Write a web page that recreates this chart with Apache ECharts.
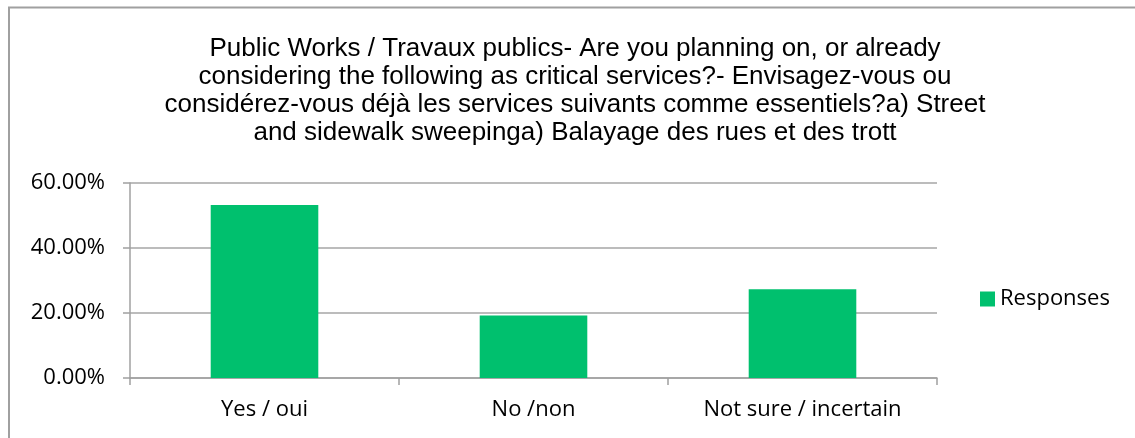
<!DOCTYPE html>
<html>
<head>
<meta charset="utf-8">
<script src="https://cdn.jsdelivr.net/npm/echarts@6/dist/echarts.min.js"></script>
<style>
  html, body { margin: 0; padding: 0; background: #fff; }
  #chart { width: 1135px; height: 438px; }
</style>
</head>
<body>
<div id="chart"></div>
<script>
const titleText = 'Public Works / Travaux publics- Are you planning on, or already\nconsidering the following as critical services?- Envisagez-vous ou\nconsidérez-vous déjà les services suivants comme essentiels?a) Street\nand sidewalk sweepinga) Balayage des rues et des trott'
const categories = ['Yes / oui', 'No /non', 'Not sure / incertain']
const responses = [53.2, 19.2, 27.3]
const seriesName = 'Responses'

const labelFont = '"Open Sans", Lato, sans-serif'

const chart = echarts.init(document.getElementById('chart'))
chart.setOption({
  animation: false,
  title: {
    text: titleText,
    left: 570,
    top: 30,
    textAlign: 'center',
    textStyle: {
      fontFamily: '"Liberation Sans", Arial',
      fontSize: 26,
      fontWeight: 'normal',
      color: '#000',
      lineHeight: 28
    }
  },
  legend: {
    data: [seriesName],
    icon: 'rect',
    left: 980,
    top: 288,
    padding: 0,
    itemWidth: 15,
    itemHeight: 15,
    textStyle: { fontFamily: labelFont, fontSize: 22, color: '#000' }
  },
  grid: { left: 130, right: 198, top: 183, bottom: 60 },
  // outer chart border (only left/top visible in the frame)
  graphic: [{
    type: 'rect',
    shape: { x: 9, y: 7.5, width: 1140, height: 440 },
    style: { fill: 'none', stroke: '#a0a0a0', lineWidth: 2 },
    silent: true
  }],
  xAxis: {
    type: 'category',
    data: categories,
    axisLine: { lineStyle: { color: '#a0a0a0', width: 1.5 } },
    axisTick: { show: true, length: 7, lineStyle: { color: '#a0a0a0', width: 1.5 } },
    axisLabel: { margin: 21, fontFamily: labelFont, fontSize: 22, color: '#000' }
  },
  yAxis: {
    type: 'value',
    min: 0,
    max: 60,
    interval: 20,
    axisLine: { show: true, lineStyle: { color: '#a0a0a0', width: 1.5 } },
    axisTick: { show: true, length: 7, lineStyle: { color: '#a0a0a0', width: 1.5 } },
    splitLine: { lineStyle: { color: '#a6a6a6', width: 1.5 } },
    axisLabel: {
      margin: 25,
      fontFamily: labelFont,
      fontSize: 22,
      color: '#000',
      formatter: v => v.toFixed(2) + '%'
    }
  },
  series: [{
    name: seriesName,
    type: 'bar',
    data: responses,
    barWidth: '40%',
    itemStyle: { color: '#00c06e' }
  }]
})
</script>
</body>
</html>
